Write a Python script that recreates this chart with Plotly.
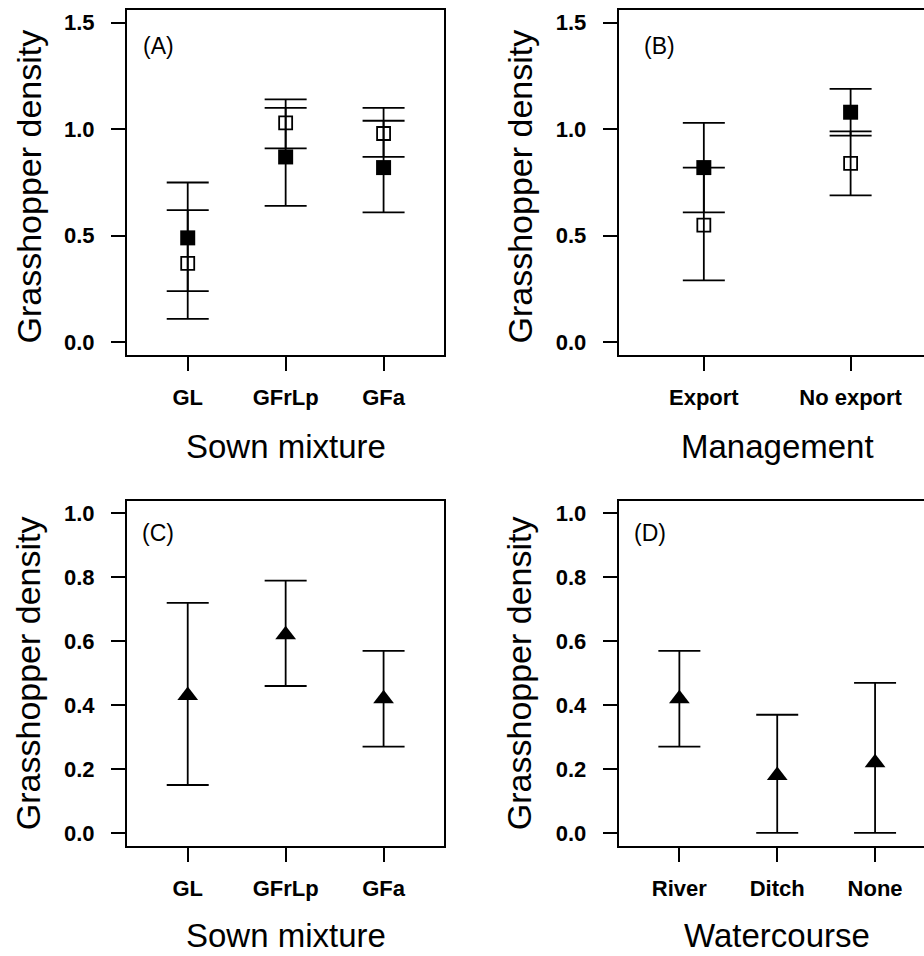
import plotly.graph_objects as go

# ---------------- data ----------------
sown_cats = ["GL", "GFrLp", "GFa"]
mgmt_cats = ["Export", "No export"]
water_cats = ["River", "Ditch", "None"]

# Panel A (two series: filled and open squares)
a_fill_mean = [0.49, 0.87, 0.82]
a_fill_low = [0.24, 0.64, 0.61]
a_fill_high = [0.75, 1.10, 1.04]
a_open_mean = [0.37, 1.03, 0.98]
a_open_low = [0.11, 0.91, 0.87]
a_open_high = [0.62, 1.14, 1.10]

# Panel B
b_fill_mean = [0.82, 1.08]
b_fill_low = [0.61, 0.97]
b_fill_high = [1.03, 1.19]
b_open_mean = [0.55, 0.84]
b_open_low = [0.29, 0.69]
b_open_high = [0.82, 0.99]

# Panel C
c_mean = [0.43, 0.62, 0.42]
c_low = [0.15, 0.46, 0.27]
c_high = [0.72, 0.79, 0.57]

# Panel D
d_mean = [0.42, 0.18, 0.22]
d_low = [0.27, 0.0, 0.0]
d_high = [0.57, 0.37, 0.47]

y_ticks_ab = [0.0, 0.5, 1.0, 1.5]
y_ticks_cd = [0.0, 0.2, 0.4, 0.6, 0.8, 1.0]

W, H = 924, 956
FONT = "Liberation Sans, Arial, sans-serif"

fig = go.Figure()


def add_series(xa, ya, cats, mean, low, high, symbol, size, lw=0):
    fig.add_trace(go.Scatter(
        x=cats, y=mean, mode="markers", xaxis=xa, yaxis=ya,
        marker=dict(symbol=symbol, size=size, color="black",
                    line=dict(color="black", width=lw)),
        error_y=dict(type="data", symmetric=False,
                     array=[h - m for h, m in zip(high, mean)],
                     arrayminus=[m - l for m, l in zip(mean, low)],
                     color="black", thickness=1.8, width=21),
        showlegend=False, cliponaxis=False,
    ))


add_series("x", "y", sown_cats, a_fill_mean, a_fill_low, a_fill_high, "square", 15)
add_series("x", "y", sown_cats, a_open_mean, a_open_low, a_open_high, "square-open", 13, 1.8)
add_series("x2", "y2", mgmt_cats, b_fill_mean, b_fill_low, b_fill_high, "square", 15)
add_series("x2", "y2", mgmt_cats, b_open_mean, b_open_low, b_open_high, "square-open", 13, 1.8)
add_series("x3", "y3", sown_cats, c_mean, c_low, c_high, "triangle-up", 18)
add_series("x4", "y4", water_cats, d_mean, d_low, d_high, "triangle-up", 18)

# geometry (pixels)
left_L, right_L = 127, 444.3
left_R, right_R = 618.7, 924
top_T, bot_T = 10, 355
top_B, bot_B = 500.7, 845.7


def px(v):
    return v / W


def py(v):
    return 1 - v / H


def xaxis(domain, rng, cats):
    return dict(domain=domain, range=rng, type="category",
                categoryorder="array", categoryarray=cats,
                showline=True, linecolor="black", linewidth=2, mirror=True,
                ticks="outside", ticklen=14, tickwidth=1.6, tickcolor="black",
                tickfont=dict(family=FONT, size=22, color="black", weight="bold"),
                ticklabelstandoff=8,
                showgrid=False, zeroline=False, fixedrange=True)


def yaxis(domain, rng, tv, mirror):
    return dict(domain=domain, range=rng,
                tickvals=tv, ticktext=["%.1f" % v for v in tv],
                showline=True, linecolor="black", linewidth=2, mirror=mirror,
                ticks="outside", ticklen=14, tickwidth=1.6, tickcolor="black",
                tickfont=dict(family=FONT, size=22, color="black", weight="bold"),
                ticklabelstandoff=12,
                showgrid=False, zeroline=False, fixedrange=True)


fig.update_layout(
    width=W, height=H, margin=dict(l=0, r=0, t=0, b=0),
    paper_bgcolor="white", plot_bgcolor="white",
    xaxis=xaxis([px(left_L), px(right_L)], [-0.62, 2.62], sown_cats),
    yaxis=yaxis([py(bot_T), py(top_T)], [-0.06, 1.56], y_ticks_ab, True),
    xaxis2=xaxis([px(left_R), 1.0], [-0.58, 1.50], mgmt_cats),
    yaxis2=yaxis([py(bot_T), py(top_T)], [-0.06, 1.56], y_ticks_ab, False),
    xaxis3=xaxis([px(left_L), px(right_L)], [-0.62, 2.62], sown_cats),
    yaxis3=yaxis([py(bot_B), py(top_B)], [-0.04, 1.04], y_ticks_cd, True),
    xaxis4=xaxis([px(left_R), 1.0], [-0.62, 2.50], water_cats),
    yaxis4=yaxis([py(bot_B), py(top_B)], [-0.04, 1.04], y_ticks_cd, False),
)
fig.update_layout(yaxis=dict(anchor="x"), yaxis2=dict(anchor="x2"),
                  yaxis3=dict(anchor="x3"), yaxis4=dict(anchor="x4"),
                  xaxis=dict(anchor="y"), xaxis2=dict(anchor="y2"),
                  xaxis3=dict(anchor="y3"), xaxis4=dict(anchor="y4"))

ann = []
# panel labels (data coords)
for xr, yr, lab, yv in [("x", "y", "(A)", 1.39), ("x2", "y2", "(B)", 1.39),
                        ("x3", "y3", "(C)", 0.94), ("x4", "y4", "(D)", 0.94)]:
    ann.append(dict(x=-0.3, y=yv, xref=xr, yref=yr, text=lab, showarrow=False,
                    font=dict(family=FONT, size=23, color="black"),
                    xanchor="center", yanchor="middle"))

# axis titles
xt = [((left_L + right_L) / 2, 446, "Sown mixture"),
      ((left_R + 935.7) / 2, 446, "Management"),
      ((left_L + right_L) / 2, 935, "Sown mixture"),
      ((left_R + 935.7) / 2, 935, "Watercourse")]
for x, y, t in xt:
    ann.append(dict(x=px(x), y=py(y), xref="paper", yref="paper", text=t,
                    showarrow=False, font=dict(family=FONT, size=33, color="black"),
                    xanchor="center", yanchor="middle"))
yt = [(28, (top_T + bot_T) / 2 + 4), (519, (top_T + bot_T) / 2 + 4),
      (28, (top_B + bot_B) / 2), (519, (top_B + bot_B) / 2)]
for x, y in yt:
    ann.append(dict(x=px(x), y=py(y), xref="paper", yref="paper",
                    text="Grasshopper density", textangle=-90,
                    showarrow=False, font=dict(family=FONT, size=34, color="black"),
                    xanchor="center", yanchor="middle"))
fig.update_layout(annotations=ann)

fig.write_html(
    "out.html",
    config={"displayModeBar": False},
    post_script="document.body.style.margin='0';document.body.style.overflow='hidden';",
)
